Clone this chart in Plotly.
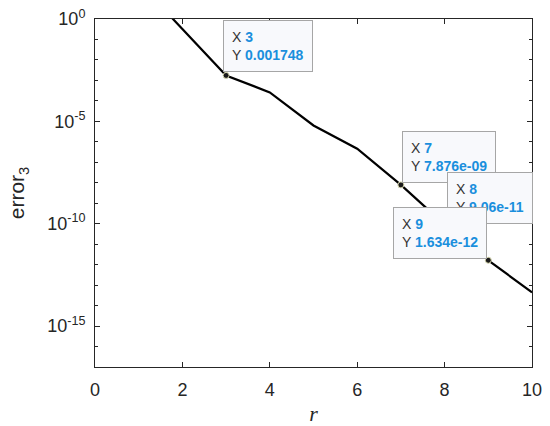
import numpy as np
import plotly.graph_objs as go

r = [1, 2, 3, 4, 5, 6, 7, 8, 9, 10]
err3 = [60, 0.31, 0.001748, 2.6e-4, 6.3e-6, 4.6e-7, 7.876e-09, 9.06e-11, 1.634e-12, 4.4e-14]

# data tips shown on the curve
tip_x = [3, 7, 8, 9]
tip_y = [0.001748, 7.876e-09, 9.06e-11, 1.634e-12]
tip_txt = ['0.001748', '7.876e-09', '9.06e-11', '1.634e-12']

ytick_vals = [1e-15, 1e-10, 1e-5, 1]
ytick_text = ['10<sup>-15</sup>', '10<sup>-10</sup>', '10<sup>-5</sup>', '10<sup>0</sup>']

axcol = '#262626'
blue = '#1a8fdd'

fig = go.Figure()
fig.add_trace(go.Scatter(x=r, y=err3, mode='lines', line=dict(color='black', width=2.2),
                         showlegend=False, hoverinfo='skip'))
fig.add_trace(go.Scatter(x=tip_x, y=tip_y, mode='markers',
                         marker=dict(size=6, color='#1a1a1a', line=dict(color='#d9d9b0', width=1)),
                         showlegend=False, hoverinfo='skip'))

# box placement: (xanchor, xshift, yshift)
place = [('left', -3, 3), ('left', 1, 2), ('left', 2, 1), ('right', -1, 1)]
for xv, yv, t, (xa, xs, ys) in zip(tip_x, tip_y, tip_txt, place):
    fig.add_annotation(
        x=xv, y=np.log10(yv), xref='x', yref='y', showarrow=False,
        xanchor=xa, yanchor='bottom', xshift=xs, yshift=ys,
        align='left',
        text=("<span style='color:#333333'>X</span> <b><span style='color:%s'>%d</span></b><br>"
              "<span style='color:#333333'>Y</span> <b><span style='color:%s'>%s</span></b>") % (blue, xv, blue, t),
        font=dict(size=14, family='Liberation Sans, Arial'),
        bgcolor='#f8f9fc', bordercolor='#a6a6a6', borderwidth=1, borderpad=8,
    )

fig.update_layout(
    width=550, height=426,
    margin=dict(l=95, r=18, t=19, b=59),
    plot_bgcolor='white', paper_bgcolor='white',
    font=dict(family='Liberation Sans, Arial', color=axcol, size=18),
)
fig.update_xaxes(
    range=[0, 10], dtick=2, showgrid=False, zeroline=False, automargin=False,
    showline=True, linecolor=axcol, linewidth=1, mirror='ticks',
    ticks='inside', ticklen=5, tickcolor=axcol, tickfont=dict(size=18),
    ticklabelstandoff=6,
    title=dict(text='<i>r</i>', font=dict(size=22, family='Liberation Serif, serif'), standoff=7),
)
fig.update_yaxes(
    type='log', range=[-17, 0], tickvals=ytick_vals, ticktext=ytick_text,
    showgrid=False, zeroline=False, automargin=False,
    showline=True, linecolor=axcol, linewidth=1, mirror='ticks',
    ticks='inside', ticklen=5, tickcolor=axcol, tickfont=dict(size=18),
    ticklabelstandoff=5,
    minor=dict(tickvals=[10.0 ** -k for k in range(18)], ticks='inside', ticklen=3,
               tickcolor=axcol, showgrid=False),
    title=dict(text='error<sub>3</sub>', font=dict(size=21), standoff=16),
)

fig.write_html("out.html", config={'displayModeBar': False},
               post_script="document.body.style.margin='0';")
